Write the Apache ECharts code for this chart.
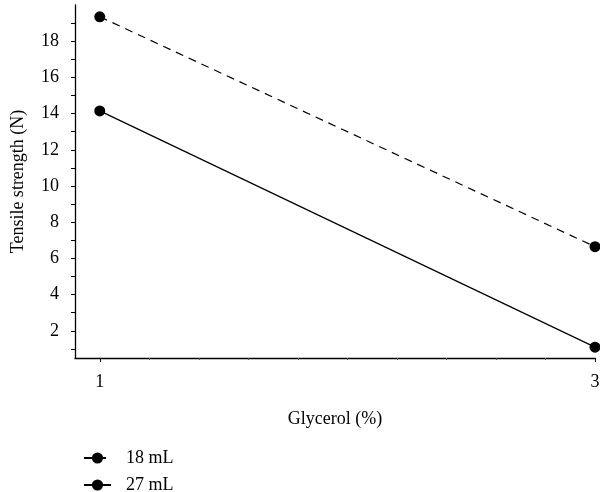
<!DOCTYPE html>
<html>
<head>
<meta charset="utf-8">
<script src="https://cdn.jsdelivr.net/npm/echarts@6/dist/echarts.min.js"></script>
<style>html,body{margin:0;padding:0;background:#fff}#c{width:600px;height:492px}</style>
</head>
<body>
<div id="c"></div>
<script>
const glycerol = [1, 3];
const s18 = [19.35, 6.65];
const s27 = [14.15, 1.1];
const seriesNames = ['18 mL', '27 mL'];
const yTickLabels = [2, 4, 6, 8, 10, 12, 14, 16, 18];
const yTicks = [1, 2, 3, 4, 5, 6, 7, 8, 9, 10, 11, 12, 13, 14, 15, 16, 17, 18, 19];
const xTickLabels = [1, 3];
const xMinorTicks = [1.2, 1.4, 1.6, 1.8, 2.0, 2.2, 2.4, 2.6, 2.8];

const font = 'Liberation Serif';
const fs = 18;
const chart = echarts.init(document.getElementById('c'));
const legendCommon = {
  orient: 'vertical', left: 78, itemWidth: 27, itemHeight: 14,
  textStyle: { fontFamily: font, fontSize: fs, color: '#000', padding: [0, 0, 0, 10] }
};
chart.setOption({
  animation: false,
  textStyle: { fontFamily: font, color: '#000' },
  grid: { left: 75, right: 5, top: 5, bottom: 134, outerBoundsMode: 'none', containLabel: false },
  legend: [
    Object.assign({}, legendCommon, { top: 444, data: [seriesNames[0]] }),
    Object.assign({}, legendCommon, { top: 471, data: [seriesNames[1]] })
  ],
  xAxis: [{
    type: 'value', min: 0.9, max: 3,
    name: 'Glycerol (%)', nameLocation: 'middle', nameGap: 52,
    nameTextStyle: { fontFamily: font, fontSize: fs, color: '#000' },
    axisLine: { lineStyle: { color: '#000', width: 1.3 } },
    axisTick: { customValues: xTickLabels, length: 4, lineStyle: { color: '#000' } },
    axisLabel: { customValues: xTickLabels, fontFamily: font, fontSize: fs, color: '#000', margin: 15 },
    splitLine: { show: false }
  }, {
    type: 'value', min: 0.9, max: 3, position: 'bottom',
    axisLine: { show: false },
    axisTick: { customValues: xMinorTicks, length: 2, lineStyle: { color: '#555' } },
    axisLabel: { show: false },
    splitLine: { show: false }
  }],
  yAxis: {
    type: 'value', min: 0.5, max: 20,
    name: 'Tensile strength (N)', nameLocation: 'middle', nameGap: 48,
    nameTextStyle: { fontFamily: font, fontSize: fs, color: '#000' },
    axisLine: { show: true, lineStyle: { color: '#000', width: 1.3 } },
    axisTick: { show: true, customValues: yTicks, length: 4, lineStyle: { color: '#000' } },
    axisLabel: { customValues: yTickLabels, fontFamily: font, fontSize: fs, color: '#000', margin: 16 },
    splitLine: { show: false }
  },
  series: [{
    name: seriesNames[0], type: 'line', symbol: 'circle', symbolSize: 11,
    data: glycerol.map((g, i) => [g, s18[i]]),
    lineStyle: { color: '#000', width: 1.2, type: [8, 6] },
    itemStyle: { color: '#000' }
  }, {
    name: seriesNames[1], type: 'line', symbol: 'circle', symbolSize: 11,
    data: glycerol.map((g, i) => [g, s27[i]]),
    lineStyle: { color: '#000', width: 1.2 },
    itemStyle: { color: '#000' }
  }]
});
</script>
</body>
</html>
